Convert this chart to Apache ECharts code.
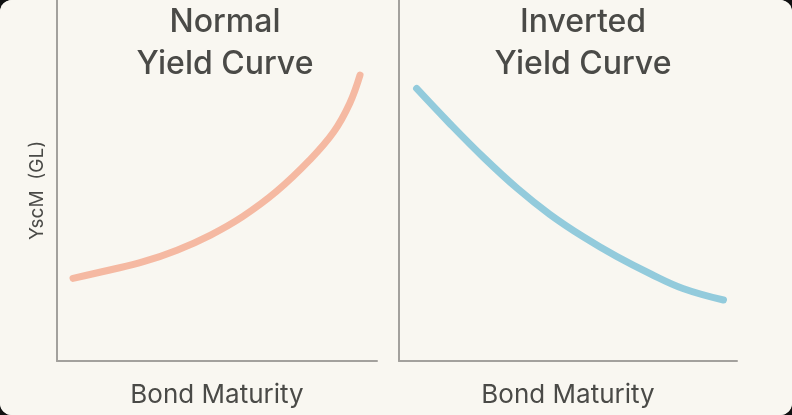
<!DOCTYPE html>
<html>
<head>
<meta charset="utf-8">
<script src="https://cdn.jsdelivr.net/npm/echarts@6/dist/echarts.min.js"></script>
<style>
  html, body { margin: 0; padding: 0; background: #111; }
  #chart { width: 792px; height: 415px; background: #f9f7f1; border-radius: 12px; overflow: hidden; }
</style>
</head>
<body>
<div id="chart"></div>
<script>
// 数据
var normalMaturity = [0.5, 1.65, 2.7, 3.75, 4.8, 5.8, 6.85, 7.9, 8.65, 9.15, 9.47];
var normalYield = [2.29, 2.52, 2.75, 3.07, 3.49, 4.0, 4.69, 5.57, 6.35, 7.14, 7.92];
var invertedMaturity = [0.52, 1.5, 2.5, 3.5, 4.45, 5.45, 6.45, 7.45, 8.4, 9.6];
var invertedYield = [7.55, 6.58, 5.64, 4.78, 4.07, 3.44, 2.89, 2.41, 2.01, 1.69];
var titles = ['Normal\nYield Curve', 'Inverted\nYield Curve'];
var xName = 'Bond Maturity';
var yName = 'YscM  (GL)';

function pairs(xs, ys) {
  return xs.map(function (x, i) { return [x, ys[i]]; });
}

var font = 'Inter, "Noto Sans", sans-serif';
var textColor = '#4a4a47';
var axisColor = '#a3a19d';

function xAxisOf(idx) {
  return {
    type: 'value', gridIndex: idx, min: 0, max: 10,
    name: xName, nameLocation: 'middle', nameGap: 21,
    nameTextStyle: { fontSize: 26, color: textColor, fontFamily: font, verticalAlign: 'top' },
    axisLine: { lineStyle: { color: axisColor, width: 2 } },
    axisTick: { show: false }, axisLabel: { show: false }, splitLine: { show: false }
  };
}
function yAxisOf(idx, withName) {
  return {
    type: 'value', gridIndex: idx, min: 0, max: 10,
    name: withName ? yName : '', nameLocation: 'middle', nameGap: 10, nameRotate: 90,
    nameTextStyle: { fontSize: 19, color: textColor, fontFamily: font, padding: [0, 20, 0, 0] },
    axisLine: { show: true, lineStyle: { color: axisColor, width: 2 } },
    axisTick: { show: false }, axisLabel: { show: false }, splitLine: { show: false }
  };
}

var myChart = echarts.init(document.getElementById('chart'), null, { renderer: 'canvas' });
var titleStyle = { fontSize: 32, fontWeight: 500, color: textColor, fontFamily: font, lineHeight: 42, align: 'center' };
var option = {
  backgroundColor: '#f9f7f1',
  animation: false,
  title: [
    { text: titles[0], left: 220, top: -4, textAlign: 'center', textStyle: titleStyle },
    { text: titles[1], left: 578, top: -4, textAlign: 'center', textStyle: titleStyle }
  ],
  grid: [
    { left: 57, right: 415, top: 0, bottom: 54, outerBoundsMode: 'none' },
    { left: 399, right: 55, top: 0, bottom: 54, outerBoundsMode: 'none' }
  ],
  xAxis: [xAxisOf(0), xAxisOf(1)],
  yAxis: [yAxisOf(0, true), yAxisOf(1, false)],
  series: [
    {
      type: 'line', xAxisIndex: 0, yAxisIndex: 0, smooth: 0.4, showSymbol: false,
      lineStyle: { color: '#f5b9a2', width: 7, cap: 'round' },
      data: pairs(normalMaturity, normalYield)
    },
    {
      type: 'line', xAxisIndex: 1, yAxisIndex: 1, smooth: 0.4, showSymbol: false,
      lineStyle: { color: '#93cbdc', width: 7, cap: 'round' },
      data: pairs(invertedMaturity, invertedYield)
    }
  ]
};
myChart.setOption(option);
</script>
</body>
</html>
